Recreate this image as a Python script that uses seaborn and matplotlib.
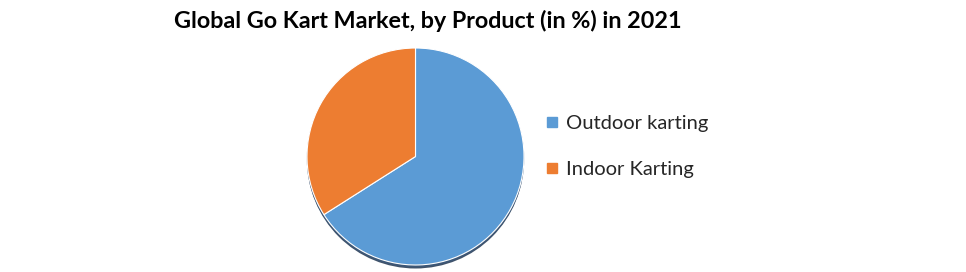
import matplotlib
matplotlib.use("Agg")
import matplotlib.pyplot as plt
import seaborn as sns
from matplotlib.patches import Circle
from matplotlib.lines import Line2D

products = ["Outdoor karting", "Indoor Karting"]
shares = [66, 34]
colors = ["#5B9BD5", "#ED7D31"]
title = "Global Go Kart Market, by Product (in %) in 2021"

sns.set_theme(style="white")
plt.rcParams['font.family'] = ['Lato', 'DejaVu Sans']

W, H = 966, 272
fig = plt.figure(figsize=(W / 100, H / 100), dpi=100)
fig.patch.set_facecolor("white")

cx, cy, half = 415.5, 156.5, 118
ax = fig.add_axes([(cx - half) / W, (H - cy - half) / H, 2 * half / W, 2 * half / H])
ax.axis("off")

r = 108.5 / half
# shadow
ax.add_patch(Circle((0.0, -3.5 / half), r, color="#1f3550", alpha=0.85, zorder=1, lw=0))
ax.add_patch(Circle((0.0, -2 / half), r * 1.003, color="#3a5a80", alpha=0.6, zorder=1.5, lw=0))

wedges, _ = ax.pie(shares, colors=colors, startangle=90, counterclock=False, radius=r,
                   wedgeprops=dict(edgecolor="white", linewidth=0.8, zorder=2))
for w in wedges:
    w.set_zorder(2)
ax.set_xlim(-1, 1)
ax.set_ylim(-1, 1)
ax.set_aspect("equal")

fig.text(428 / W, 1 - 21 / H, title, ha="center", va="center", fontsize=16.8,
         fontweight="bold", color="black")

handles = [Line2D([0], [0], marker="s", linestyle="none", markersize=6.5,
                  markerfacecolor=c, markeredgecolor=c) for c in colors]
fig.legend(handles, products, loc="center left", bbox_to_anchor=(540 / W, 1 - 146.5 / H),
           frameon=False, fontsize=14.5, handletextpad=0.1, labelspacing=1.45,
           handlelength=1.2, borderaxespad=0, borderpad=0)

fig.savefig("out.png", dpi=100, facecolor="white")
